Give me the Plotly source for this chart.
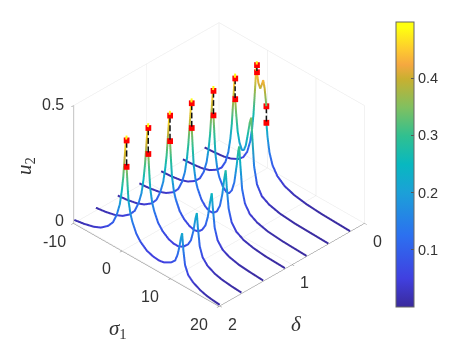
import plotly.graph_objects as go

# === DATA ===
deltas = [2.0, 1.7, 1.4, 1.1, 0.8, 0.5, 0.2]

# rising side of the main peak, same sigma grid for every delta
sigma_left = [-10, -8, -6, -4.5, -3, -2, -1.2, -0.6, -0.2, 0.1, 0.4, 0.6, 0.8]
u_left_20 = [.013, .02, .031, .045, .07, .097, .14, .19, .25, .31, .40, .46, .498]
u_left_17 = [.012, .018, .028, .042, .066, .093, .135, .185, .245, .31, .40, .46, .498]
u_left_14 = [.011, .016, .025, .038, .06, .087, .13, .18, .24, .30, .395, .46, .498]
u_left_11 = [.010, .014, .022, .034, .055, .08, .12, .17, .23, .295, .39, .455, .498]
u_left_08 = [.009, .012, .019, .03, .05, .073, .11, .16, .22, .285, .385, .45, .498]
u_left_05 = [.007, .01, .016, .026, .045, .066, .10, .15, .21, .275, .38, .45, .498]
u_left_02 = [.005, .008, .013, .022, .038, .058, .09, .14, .20, .265, .37, .445, .498]

# after the jump down
sigma_right_20 = [.8, 1, 1.2, 1.6, 2, 2.8, 3.7, 5, 6.3, 7.5, 8.5, 9.2, 10, 10.8, 11.3, 11.7, 12, 12.25, 12.5, 12.85, 13.5, 14.5, 16, 17.3, 18.5, 20]
u_right_20 = [.366, .29, .225, .175, .145, .105, .08, .058, .049, .046, .05, .058, .068, .085, .115, .155, .195, .218, .15, .09, .055, .036, .02, .012, .008, .005]
sigma_right_17 = [.8, 1, 1.2, 1.6, 2, 2.8, 3.7, 5, 6, 7, 8, 9, 9.6, 10.1, 10.5, 10.8, 11, 11.4, 12, 13, 14.5, 16, 18, 20]
u_right_17 = [.368, .29, .225, .17, .14, .10, .075, .055, .048, .048, .058, .08, .105, .15, .205, .234, .18, .10, .06, .036, .02, .012, .007, .004]
sigma_right_14 = [.8, 1, 1.2, 1.6, 2, 2.8, 3.7, 4.8, 5.8, 6.6, 7.4, 8.1, 8.6, 9, 9.4, 9.6, 10, 10.6, 11.6, 13, 15, 17, 20]
u_right_14 = [.37, .29, .225, .165, .135, .095, .072, .056, .05, .054, .07, .097, .14, .2, .249, .195, .11, .064, .036, .021, .011, .007, .003]
sigma_right_11 = [.8, 1, 1.2, 1.6, 2, 2.8, 3.6, 4.4, 5.2, 6, 6.6, 7.1, 7.5, 7.8, 8, 8.4, 9, 10, 11.5, 13.5, 16, 20]
u_right_11 = [.373, .29, .22, .16, .13, .092, .072, .062, .063, .08, .11, .165, .235, .275, .21, .12, .07, .04, .022, .012, .006, .003]
sigma_right_08 = [.8, 1, 1.2, 1.6, 2, 2.7, 3.4, 4, 4.6, 5.1, 5.6, 5.9, 6.1, 6.3, 6.7, 7.3, 8.3, 9.8, 12, 15, 20]
u_right_08 = [.374, .29, .215, .155, .125, .095, .08, .08, .1, .14, .22, .28, .304, .24, .13, .075, .042, .024, .012, .006, .002]
sigma_right_05 = [.8, 1, 1.3, 1.7, 2.2, 2.6, 3, 3.4, 3.8, 4.1, 4.3, 4.7, 5.3, 6.3, 7.8, 10, 13, 20]
u_right_05 = [.39, .33, .26, .215, .19, .195, .22, .27, .325, .35, .28, .15, .08, .042, .024, .012, .006, .002]
# delta 0.2 has two jumps, so a middle piece
sigma_mid_02 = [.8, 1.1, 1.5, 1.8, 2.1, 2.4, 2.75]
u_mid_02 = [.452, .41, .39, .41, .433, .40, .33]
sigma_right_02 = [2.75, 3, 3.4, 4, 5, 6.5, 8.5, 11, 14, 20]
u_right_02 = [.26, .20, .14, .095, .06, .035, .02, .011, .006, .002]

# jump markers
jump_delta = [2.0, 1.7, 1.4, 1.1, 0.8, 0.5, 0.2, 0.2]
jump_sigma = [.8, .8, .8, .8, .8, .8, .8, 2.75]
jump_hi = [.478, .478, .478, .478, .478, .478, .482, .33]
jump_lo = [.366, .368, .37, .373, .374, .39, .452, .26]
jump_dashes = [3, 3, 3, 3, 3, 3, 1, 2]

z_ticks = [0, 0.5]
sigma_ticks = [-10, 0, 10, 20]
delta_ticks = [0, 1, 2]
cbar_ticks = [0.1, 0.2, 0.3, 0.4]

colors = [[0, "#3a2a9c"], [.1, "#4040e0"], [.25, "#2c70f0"], [.4, "#1ca0d8"], [.5, "#08b8c0"],
          [.6, "#30c090"], [.7, "#80c060"], [.8, "#c8b030"], [.85, "#f5a840"], [.9, "#fdc830"],
          [.98, "#ffff10"], [1, "#ffff10"]]

branches = [
    (2.0, sigma_left, u_left_20), (2.0, sigma_right_20, u_right_20),
    (1.7, sigma_left, u_left_17), (1.7, sigma_right_17, u_right_17),
    (1.4, sigma_left, u_left_14), (1.4, sigma_right_14, u_right_14),
    (1.1, sigma_left, u_left_11), (1.1, sigma_right_11, u_right_11),
    (0.8, sigma_left, u_left_08), (0.8, sigma_right_08, u_right_08),
    (0.5, sigma_left, u_left_05), (0.5, sigma_right_05, u_right_05),
    (0.2, sigma_left, u_left_02), (0.2, sigma_mid_02, u_mid_02), (0.2, sigma_right_02, u_right_02),
]

FONT = "Liberation Sans"
TEXT = "#333"

fig = go.Figure()

for i, (d, s, u) in enumerate(branches):
    fig.add_trace(go.Scatter3d(
        x=s, y=[d] * len(s), z=u, mode="lines", showlegend=False,
        line=dict(color=u, colorscale=colors, cmin=0, cmax=0.498, width=4,
                  showscale=(i == 0),
                  colorbar=dict(x=388 / 461, xanchor="left", xpad=0, ypad=0,
                                y=(346 - 156.5) / 346, yanchor="middle",
                                len=285 / 346, lenmode="fraction", thickness=18, thicknessmode="pixels",
                                tickvals=cbar_ticks, ticks="inside", ticklen=3, tickcolor="#555",
                                outlinecolor="#666", outlinewidth=1,
                                tickfont=dict(family=FONT, size=14.5, color=TEXT))),
    ))

# dash pattern of gl lines comes out dotted, so cut the dashes by hand
for d, s, hi, lo, n in zip(jump_delta, jump_sigma, jump_hi, jump_lo, jump_dashes):
    step = (hi - lo) / n
    dash_z = []
    for k in range(n):
        dash_z += [hi - step * (k + 0.15), hi - step * (k + 0.85), None]
    fig.add_trace(go.Scatter3d(
        x=[s] * len(dash_z), y=[d] * len(dash_z), z=dash_z, mode="lines", showlegend=False,
        line=dict(color="#111", width=3),
    ))
    fig.add_trace(go.Scatter3d(
        x=[s, s], y=[d, d], z=[hi, lo], mode="markers", showlegend=False,
        marker=dict(color="red", size=3, symbol="square"),
    ))


def axis(ticks, rng):
    return dict(range=rng, tickvals=ticks, showticklabels=False, title="",
                showbackground=False, showgrid=True, gridcolor="#e6e6e6", gridwidth=1,
                zeroline=False, showline=True, linecolor="#777", linewidth=1, ticks="outside",
                ticklen=3, tickcolor="#777", showspikes=False)


# tick labels as scene annotations, the built-in ones can't be nudged off each other
def tick_label(x, y, z, text, xanchor, xshift, yshift):
    return dict(x=x, y=y, z=z, text=text, showarrow=False, xanchor=xanchor, yanchor="middle",
                xshift=xshift, yshift=yshift, font=dict(family=FONT, size=16, color=TEXT))


tick_labels = [tick_label(t, 2, 0, str(t), "right", -6 if t == -10 else -10, -18) for t in sigma_ticks]
tick_labels += [tick_label(20, t, 0, str(t), "center", 13, -18) for t in delta_ticks]
tick_labels += [tick_label(-10, 2, t, str(t), "right", -8, 3 if t == 0 else 1) for t in z_ticks]

MATH = dict(family="Liberation Serif", size=21, color=TEXT)

fig.update_layout(
    width=461, height=346, margin=dict(l=0, r=0, t=0, b=0),
    paper_bgcolor="white", font=dict(family=FONT),
    scene=dict(
        domain=dict(x=[0, 0.915], y=[0.095, 1]),
        xaxis=axis(sigma_ticks, [-10, 20]),
        yaxis=axis(delta_ticks, [2.01, 0]),
        zaxis=axis(z_ticks, [0, 0.5]),
        aspectmode="manual", aspectratio=dict(x=1.315, y=1.315, z=0.916),
        camera=dict(projection=dict(type="orthographic"),
                    eye=dict(x=1.16, y=-1.16, z=1.14), center=dict(x=0, y=0, z=0)),
        annotations=tick_labels,
    ),
    annotations=[
        dict(text="<i>σ</i><sub>1</sub>", x=110 / 461, y=1 - 321 / 346, xref="paper", yref="paper", showarrow=False,
             xanchor="center", yanchor="middle", font=MATH),
        dict(text="<i>δ</i>", x=288 / 461, y=1 - 316 / 346, xref="paper", yref="paper", showarrow=False,
             xanchor="center", yanchor="middle", font=MATH),
        dict(text="<i>u</i><sub>2</sub>", x=17 / 461, y=1 - 158 / 346, xref="paper", yref="paper", showarrow=False,
             xanchor="center", yanchor="middle", textangle=-90, font=MATH),
    ],
)

fig.write_html("out.html")
